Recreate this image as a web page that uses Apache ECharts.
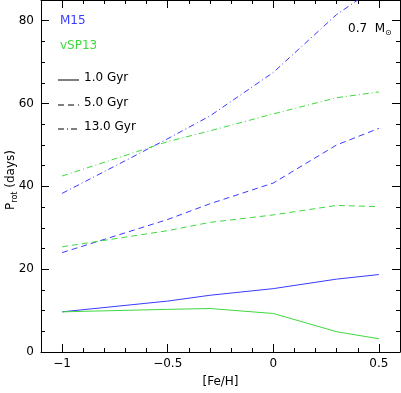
<!DOCTYPE html>
<html><head><meta charset="utf-8">
<script src="https://cdn.jsdelivr.net/npm/echarts@6/dist/echarts.min.js"></script>
<style>html,body{margin:0;padding:0;background:#fff}#c{width:401px;height:393px}</style>
</head><body><div id="c"></div>
<script>
// ---- data ----
const feh = [-1.0, -0.5, -0.3, 0.0, 0.3, 0.5];
const m15_1Gyr  = [9.7, 12.3, 13.7, 15.3, 17.6, 18.7];
const m15_5Gyr  = [24.0, 32.0, 35.8, 40.8, 50.0, 54.0];
const m15_13Gyr = [38.3, 51.5, 57.0, 67.5, 81.5, 88.5];
const vsp_1Gyr  = [9.7, 10.3, 10.5, 9.3, 4.9, 3.2];
const vsp_5Gyr  = [25.4, 29.3, 31.3, 33.1, 35.4, 35.1];
const vsp_13Gyr = [42.5, 50.8, 53.4, 57.5, 61.4, 62.8];
const xMajor = [-1, -0.5, 0, 0.5];
const xMinor = [-1.1,-0.9,-0.8,-0.7,-0.6,-0.4,-0.3,-0.2,-0.1,0.1,0.2,0.3,0.4,0.6];
const yMajor = [0, 20, 40, 60, 80];
const yMinor = [5,10,15,25,30,35,45,50,55,65,70,75,85];
const legendLabels = ['1.0 Gyr', '5.0 Gyr', '13.0 Gyr'];

const BLUE = '#3b3bff', GREEN = '#3fd93f';
const FONT = 'DejaVu Sans';
const pairs = ys => feh.map((x, i) => [x, ys[i]]);
const ax = '#000';

function mkX(pos, vals, len, labels, line) {
  return {
    type: 'value', position: pos, min: -1.1, max: 0.6,
    axisLine: {show: line, onZero: false, lineStyle: {color: ax, width: 1}},
    splitLine: {show: false},
    axisTick: {show: true, inside: true, length: len, customValues: vals, lineStyle: {color: ax}},
    axisLabel: labels ? {show: true, customValues: xMajor, margin: 6, color: '#000', fontFamily: FONT, fontSize: 12,
      formatter: v => (v < 0 ? '\u2212' + Math.abs(v) : String(v))} : {show: false}
  };
}
function mkY(pos, vals, len, labels, line) {
  return {
    type: 'value', position: pos, min: 0, max: 85,
    axisLine: {show: line, onZero: false, lineStyle: {color: ax, width: 1}},
    splitLine: {show: false},
    axisTick: {show: true, inside: true, length: len, customValues: vals, lineStyle: {color: ax}},
    axisLabel: labels ? {show: true, customValues: yMajor, margin: 7, color: '#000', fontFamily: FONT, fontSize: 12} : {show: false}
  };
}

const xAxes = [mkX('bottom', xMajor, 8, true, true), mkX('bottom', xMinor, 4, false, false),
               mkX('top', xMajor, 8, false, true), mkX('top', xMinor, 4, false, false)];
xAxes[0].name = '[Fe/H]';
xAxes[0].nameLocation = 'middle';
xAxes[0].nameGap = 24;
xAxes[0].nameTextStyle = {color: '#000', fontFamily: FONT, fontSize: 12};
const yAxes = [mkY('left', yMajor, 8, true, true), mkY('left', yMinor, 4, false, false),
               mkY('right', yMajor, 8, false, true), mkY('right', yMinor, 4, false, false)];

function ser(data, color, type) {
  return {type: 'line', data: pairs(data), xAxisIndex: 0, yAxisIndex: 0, showSymbol: false, symbol: 'none',
    lineStyle: {color: color, width: 1, type: type}, silent: true, animation: false, clip: true};
}
const DASH = [6, 4], DDOT = [6, 3, 1, 3];

const chart = echarts.init(document.getElementById('c'), null, {renderer: 'canvas'});
const legendY = [80, 105, 129];
const legendDash = [null, DASH, DDOT];
const graphics = [
  {type: 'text', left: 60, top: 15, style: {text: 'M15', fill: BLUE, font: '12px "DejaVu Sans"'}},
  {type: 'text', left: 60, top: 40, style: {text: 'vSP13', fill: GREEN, font: '12px "DejaVu Sans"'}},
  {type: 'text', left: 348, top: 23, style: {rich: {a: {fontFamily: FONT, fontSize: 12, fill: '#000'}, s: {fontFamily: FONT, fontSize: 8, fill: '#000', padding: [8, 0, 0, 0]}}, text: '{a|0.7  M}{s|\u2299}'}},
  {type: 'text', x: 11, y: 180, rotation: Math.PI / 2, style: {rich: {a: {fontFamily: FONT, fontSize: 12, fill: '#000'}, s: {fontFamily: FONT, fontSize: 8, fill: '#000', padding: [8, 0, 0, 0]}}, text: '{a|P}{s|rot}{a| (days)}', align: 'center', verticalAlign: 'middle'}}
];
legendLabels.forEach((t, i) => {
  graphics.push({type: 'line', shape: {x1: 58, y1: legendY[i], x2: 79, y2: legendY[i]}, style: {stroke: '#000', lineWidth: 1, lineDash: legendDash[i]}});
  graphics.push({type: 'text', left: 84, top: legendY[i] - 8, style: {text: t, fill: '#000', font: '12px "DejaVu Sans"'}});
});

chart.setOption({
  animation: false,
  backgroundColor: '#fff',
  grid: {left: 41, right: 1, top: 0, bottom: 34, containLabel: false},
  xAxis: xAxes, yAxis: yAxes,
  series: [
    ser(m15_1Gyr, BLUE, 'solid'), ser(m15_5Gyr, BLUE, DASH), ser(m15_13Gyr, BLUE, DDOT),
    ser(vsp_1Gyr, GREEN, 'solid'), ser(vsp_5Gyr, GREEN, DASH), ser(vsp_13Gyr, GREEN, DDOT)
  ],
  graphic: graphics
});
</script></body></html>
